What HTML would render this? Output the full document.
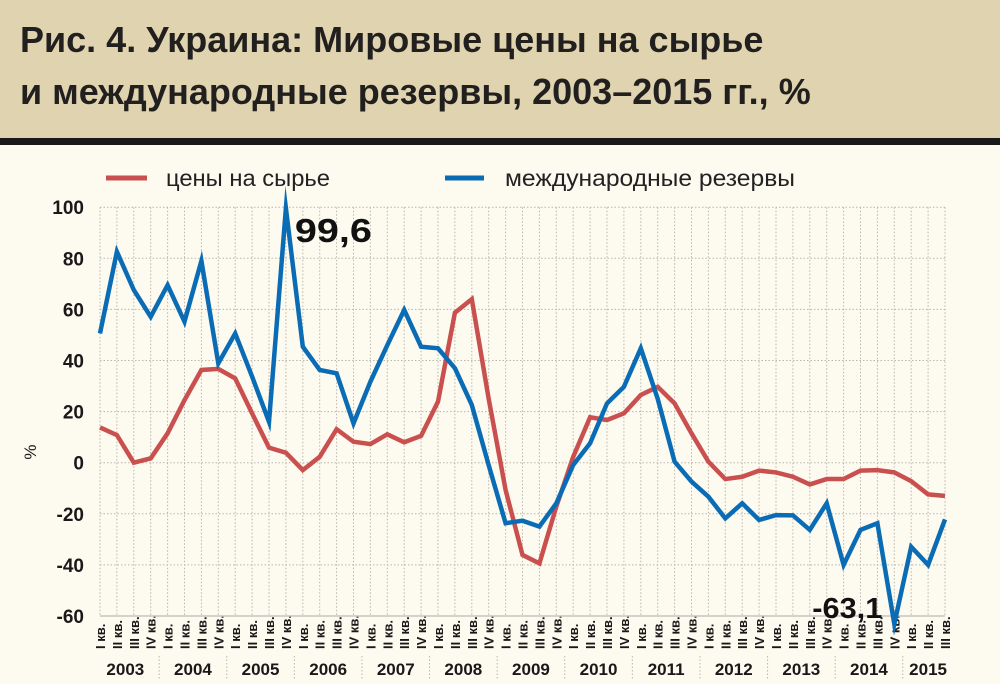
<!DOCTYPE html>
<html><head><meta charset="utf-8">
<style>
html,body{margin:0;padding:0;}
body{width:1000px;height:684px;background:#fdfaf0;position:relative;overflow:hidden;font-family:"Liberation Sans","DejaVu Sans",sans-serif;}
#hdr{position:absolute;left:0;top:0;width:1000px;height:138px;background:#e0d3b0;}
#bar{position:absolute;left:0;top:138px;width:1000px;height:7px;background:#1a1818;}
.t{position:absolute;left:20px;font-weight:bold;font-size:36px;color:#221f1f;white-space:nowrap;}
</style></head><body>
<div id="hdr"></div>
<div id="bar"></div>
<div class="t" style="top:19px">Рис. 4. Украина: Мировые цены на сырье</div>
<div class="t" style="top:71px">и международные резервы, 2003–2015 гг., %</div>
<svg id="chart" width="1000" height="684" style="position:absolute;left:0;top:0">
<g id="legend">
<line x1="106" y1="178" x2="147" y2="178" stroke="#c9504f" stroke-width="5"/>
<text x="166" y="186" font-size="23" textLength="164" lengthAdjust="spacingAndGlyphs" fill="#222">цены на сырье</text>
<line x1="445" y1="178" x2="484" y2="178" stroke="#0a6cb5" stroke-width="5"/>
<text x="505" y="186" font-size="23" textLength="290" lengthAdjust="spacingAndGlyphs" fill="#222">международные резервы</text>
</g>
<g id="grid"></g><g id="axes"></g><g id="series"></g><g id="ann"></g>
</svg>
<script>
const years = ["2003","2004","2005","2006","2007","2008","2009","2010","2011","2012","2013","2014","2015"];
const quarterLabels = ["I кв.","II кв.","III кв.","IV кв."];
const yTicks = [100,80,60,40,20,0,-20,-40,-60];
const commodityPrices = [13.8,10.8,0,1.7,11.5,24.5,36.3,36.7,33,19.3,5.9,3.9,-2.9,2.3,13.1,8.2,7.3,11.1,8,10.5,23.9,58.7,64,25,-10.7,-36.1,-39.4,-17.2,2.3,17.8,16.7,19.3,26.5,29.7,23.2,11.5,0.4,-6.4,-5.5,-3.1,-3.8,-5.5,-8.5,-6.4,-6.4,-3.1,-2.9,-3.8,-7.2,-12.4,-13];
const reserves = [50.6,82.6,67.6,57.1,69.5,55.2,79,38.9,50.6,33.7,16,99.6,45.4,36.3,35,15.4,31.7,46,59.8,45.4,44.8,37,22.6,-1,-23.7,-22.7,-25,-15.9,-0.9,7.6,23.2,29.7,44.8,25,0.4,-7.4,-13.3,-21.8,-15.9,-22.4,-20.5,-20.6,-26.3,-15.9,-40,-26.3,-23.7,-63.1,-32.9,-40,-22.2];
const annotations = [{i:11,text:"99,6"},{i:47,text:"-63,1"}];

const NS="http://www.w3.org/2000/svg";
const X0=100, DX=16.9, Y0=462.7, PX=2.555;
const xs=i=>X0+DX*i, ys=v=>Y0-v*PX;
const N=commodityPrices.length;
function el(tag,attrs,parent){const e=document.createElementNS(NS,tag);for(const k in attrs)e.setAttribute(k,attrs[k]);parent.appendChild(e);return e;}
const grid=document.getElementById('grid'),axes=document.getElementById('axes'),series=document.getElementById('series'),ann=document.getElementById('ann');
yTicks.forEach(v=>{
  if(v!==-60){const l=el('line',{x1:X0,x2:xs(N-1),y1:ys(v),y2:ys(v),stroke:'#b9b6ad','stroke-width':1,'stroke-dasharray':'1.5,2'},grid);
  
  }
  const t=el('text',{x:84,y:ys(v)+7,'text-anchor':'end','font-size':19,'font-weight':'bold',fill:'#1a1818'},axes);
  t.textContent=v;
  
  
});
for(let i=0;i<N;i++){
  const l=el('line',{x1:xs(i),x2:xs(i),y1:ys(100),y2:ys(-60),stroke:'#b9b6ad','stroke-width':1,'stroke-dasharray':'1.5,2'},grid);
  
  
  const q=quarterLabels[i%4];
  const t=el('text',{x:0,y:0,transform:`translate(${xs(i)+5},649) rotate(-90)`,'font-size':13,'font-weight':'bold',fill:'#1a1818'},axes);
  t.textContent=q;
  
  
}
const base=el('line',{x1:X0,x2:xs(N-1),y1:ys(-60),y2:ys(-60),stroke:'#c8c5bc','stroke-width':1.5},axes);


years.forEach((y,k)=>{
  const first=k*4,last=Math.min(k*4+3,N-1);
  const t=el('text',{x:(xs(first)+xs(last))/2,y:675,'text-anchor':'middle','font-size':17,'font-weight':'bold',fill:'#1a1818'},axes);
  t.textContent=y;
  
  
  if(k>0){const s=el('line',{x1:xs(first)-DX/2,x2:xs(first)-DX/2,y1:656,y2:680,stroke:'#b9b6ad','stroke-dasharray':'1.5,2'},axes);
  
  }
});
const yt=el('text',{x:0,y:0,transform:'translate(36,452) rotate(-90)','font-size':17,'text-anchor':'middle',fill:'#1a1818'},axes);
yt.textContent='%';


function line(arr,color,name){
  const p=el('polyline',{points:arr.map((v,i)=>xs(i)+','+ys(v)).join(' '),fill:'none',stroke:color,'stroke-width':4.5,'stroke-linejoin':'miter','stroke-miterlimit':10},series);
  
  
}
line(commodityPrices,'#c9504f','commodity-prices-line');
line(reserves,'#0a6cb5','reserves-line');
annotations.forEach(a=>{
  const v=reserves[a.i];
  const w=v>0?77:a.text.length*14;
  const t=el('text',{x:v>0?xs(a.i)+9:xs(a.i)-12-w,y:v>0?ys(v)+34:ys(v)-6,'font-size':v>0?33:29,'font-weight':'bold',fill:'#111',textLength:w,lengthAdjust:'spacingAndGlyphs'},ann);
  t.textContent=a.text;
  
  
});
</script>
</body></html>
